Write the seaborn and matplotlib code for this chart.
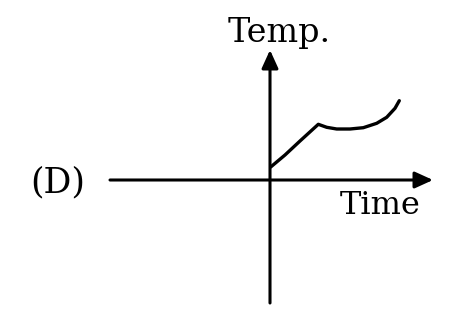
import matplotlib
matplotlib.use("Agg")
import matplotlib.pyplot as plt
import seaborn as sns
import pandas as pd

sns.set_theme(style="white")
plt.rcParams['font.family'] = ['DejaVu Serif']

# Curve (time, temperature) in arbitrary units
time = [0.07, 1.5, 3.0, 4.83, 5.67, 6.67, 8.0, 9.33, 10.67, 11.67, 12.5, 12.93]
temp = [1.3, 2.5, 3.9, 5.57, 5.27, 5.1, 5.1, 5.23, 5.67, 6.27, 7.17, 7.93]

x_axis_range = [-16.0, 16.3]
y_axis_range = [-12.3, 13.0]

panel_label = "(D)"
x_label = "Time"
y_label = "Temp."

df = pd.DataFrame({"Time": time, "Temp": temp})

fig = plt.figure(figsize=(4.74, 3.25), dpi=100)
ax = fig.add_axes([0, 0, 1, 1])
ax.set_xlim(-27.0, 20.4)
ax.set_ylim(-14.5, 18.0)
ax.axis("off")

arrow = dict(arrowstyle="-|>,head_length=0.55,head_width=0.25", color="black",
             lw=2.2, mutation_scale=20, shrinkA=0, shrinkB=0)
ax.annotate("", xy=(x_axis_range[1], 0), xytext=(x_axis_range[0], 0), arrowprops=arrow)
ax.annotate("", xy=(0, y_axis_range[1]), xytext=(0, y_axis_range[0]), arrowprops=arrow)

sns.lineplot(data=df, x="Time", y="Temp", ax=ax, color="black", lw=2.4,
             sort=False, estimator=None)

ax.text(0.9, 13.8, y_label, ha="center", va="baseline", fontsize=24, color="black")
ax.text(11.0, -3.4, x_label, ha="center", va="baseline", fontsize=23, color="black")
ax.text(-21.2, -1.2, panel_label, ha="center", va="baseline", fontsize=25, color="black")

fig.savefig("out.png", dpi=100)
